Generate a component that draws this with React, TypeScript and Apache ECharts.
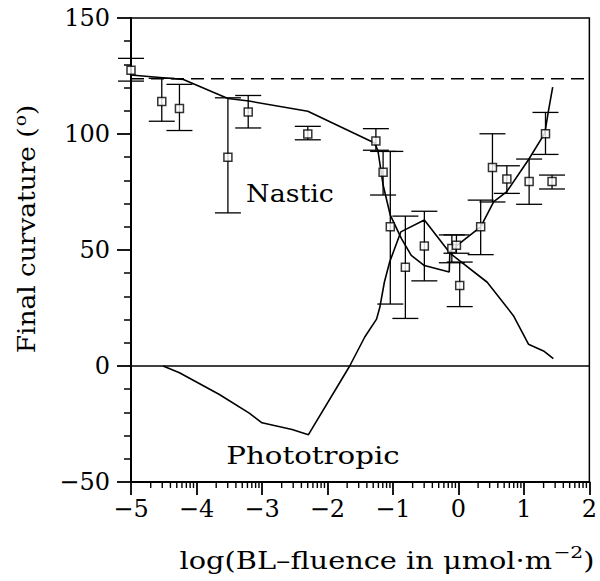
import { useEffect, useRef } from "react";
import * as echarts from "echarts";

// Axis ranges
const X_MIN = -5;
const X_MAX = 2;
const Y_MIN = -50;
const Y_MAX = 150;

// Measured final curvature (mean with error-bar limits) versus log fluence
const fluenceLog = [-5.0, -4.53, -4.26, -3.52, -3.21, -2.3, -1.26, -1.15, -1.04, -0.81, -0.52, -0.1, -0.03, 0.02, 0.34, 0.52, 0.74, 1.08, 1.33, 1.43];
const curvatureMean = [127.5, 114, 111, 90, 109.5, 100, 97, 83.5, 60, 42.6, 51.7, 50.7, 52, 34.7, 60, 85.6, 80.6, 79.5, 100.1, 79.5];
const curvatureLow = [122.8, 105.5, 101.5, 66, 102.6, 97.5, 93, 73.7, 26.7, 20.5, 36.7, 44.5, 48.6, 25.6, 48, 70.7, 74.4, 69.7, 91.2, 76.3];
const curvatureHigh = [132.6, 124, 121.4, 115.6, 116.6, 103.3, 102.3, 92.5, 92.5, 64.6, 66.7, 56.5, 56.5, 44.8, 71.5, 100.1, 86.3, 89.2, 109.3, 82.3];

// Model curve: nastic component
const nasticX = [-5.0, -4.2, -3.52, -3.2, -2.3, -1.28, -1.23, -1.15, -1.04, -0.87, -0.72, -0.52, -0.14, -0.13, 0.14, 0.34, 0.54, 0.74, 1.07, 1.32, 1.37, 1.44];
const nasticY = [125.4, 123.5, 115.3, 114.2, 109.8, 96.1, 93, 78, 65, 54.9, 47.7, 43.3, 40.5, 49.5, 55.5, 60, 70.8, 75.2, 88.9, 100.4, 109.1, 120.2];

// Model curve: phototropic component
const phototropicX = [-4.51, -4.26, -3.65, -3.2, -3.0, -2.54, -2.29, -1.66, -1.43, -1.25, -1.2, -1.13, -1.05, -0.88, -0.52, -0.12, 0.44, 0.84, 1.07, 1.3, 1.45];
const phototropicY = [0, -2.9, -12.3, -20.2, -24.5, -27.4, -29.6, 0, 12.5, 20.2, 25.3, 36.2, 44.8, 57.8, 62.9, 48.4, 36.1, 21.7, 9.4, 6.5, 3.2];

// Saturation level of the nastic response
const saturationLevel = 123.8;

// Decades and in-decade factors for logarithmic minor ticks
const decades = [-5, -4, -3, -2, -1, 0, 1];
const decadeFactors = [2, 3, 4, 5, 6, 7, 8, 9];

const FONT = "'DejaVu Serif', serif";

export default function App() {
  const ref = useRef<HTMLDivElement>(null);

  useEffect(() => {
    if (!ref.current) return;
    const chart = echarts.init(ref.current, null, { renderer: "svg" });

    const minorTicks: number[][] = [];
    decades.forEach((d) => decadeFactors.forEach((f) => minorTicks.push([d + Math.log10(f), Y_MIN])));

    const errorData = fluenceLog.map((x, i) => [x, curvatureLow[i], curvatureHigh[i]]);
    const pointData = fluenceLog.map((x, i) => [x, curvatureMean[i]]);
    const nasticData = nasticX.map((x, i) => [x, nasticY[i]]);
    const phototropicData = phototropicX.map((x, i) => [x, phototropicY[i]]);

    const lineStyle = { color: "#000", width: 1.6 };
    const minus = (v: number) => String(v).replace("-", "\u2212");

    const titleRich = {
      t: { fontFamily: FONT, fontSize: 24, fill: "#000", verticalAlign: "bottom" },
      sup: { fontFamily: FONT, fontSize: 17, fill: "#000", verticalAlign: "bottom", padding: [0, 0, 11, 1] },
    };

    chart.setOption({
      animation: false,
      grid: {
        left: 131,
        right: 8,
        top: 18,
        bottom: 99,
        show: true,
        borderColor: "#000",
        borderWidth: 1.5,
      },
      xAxis: {
        type: "value",
        min: X_MIN,
        max: X_MAX,
        interval: 1,
        axisLine: { onZero: false, lineStyle: { color: "#000", width: 2 } },
        axisTick: { length: 13, lineStyle: { color: "#000", width: 1.8 } },
        axisLabel: { color: "#000", fontFamily: FONT, fontSize: 24, margin: 15, formatter: minus },
        splitLine: { show: false },
      },
      yAxis: {
        type: "value",
        min: Y_MIN,
        max: Y_MAX,
        interval: 50,
        axisLine: { onZero: false, lineStyle: { color: "#000", width: 2 } },
        axisTick: { length: 14, lineStyle: { color: "#000", width: 1.8 } },
        minorTick: { show: true, splitNumber: 5, length: 7, lineStyle: { color: "#000", width: 1.5 } },
        axisLabel: { color: "#000", fontFamily: FONT, fontSize: 24, margin: 21, formatter: minus },
        splitLine: { show: false },
      },
      series: [
        {
          type: "line",
          data: [[X_MIN, 0], [X_MAX, 0]],
          showSymbol: false,
          lineStyle: { color: "#000", width: 1.5 },
          silent: true,
        },
        {
          type: "line",
          data: [[X_MIN, saturationLevel], [X_MAX, saturationLevel]],
          showSymbol: false,
          lineStyle: { color: "#000", width: 1.5, type: [13, 7] },
          silent: true,
        },
        {
          type: "line",
          data: nasticData,
          showSymbol: false,
          lineStyle,
        },
        {
          type: "line",
          data: phototropicData,
          showSymbol: false,
          lineStyle,
        },
        {
          type: "custom",
          data: errorData,
          encode: { x: 0, y: [1, 2] },
          renderItem: (_params: any, api: any) => {
            const x = api.value(0);
            const lo = api.coord([x, api.value(1)]);
            const hi = api.coord([x, api.value(2)]);
            const w = 13;
            const style = { stroke: "#000", lineWidth: 1.3, fill: "none" };
            return {
              type: "group",
              children: [
                { type: "line", shape: { x1: lo[0], y1: lo[1], x2: hi[0], y2: hi[1] }, style },
                { type: "line", shape: { x1: lo[0] - w, y1: lo[1], x2: lo[0] + w, y2: lo[1] }, style },
                { type: "line", shape: { x1: hi[0] - w, y1: hi[1], x2: hi[0] + w, y2: hi[1] }, style },
              ],
            };
          },
          z: 3,
        },
        {
          type: "scatter",
          data: pointData,
          symbol: "rect",
          symbolSize: 8,
          itemStyle: { color: "#fff", borderColor: "#000", borderWidth: 1.5 },
          z: 4,
        },
        {
          type: "custom",
          data: minorTicks,
          clip: false,
          encode: { x: 0, y: 1 },
          renderItem: (_params: any, api: any) => {
            const p = api.coord([api.value(0), api.value(1)]);
            return {
              type: "line",
              shape: { x1: p[0], y1: p[1], x2: p[0], y2: p[1] + 6 },
              style: { stroke: "#000", lineWidth: 1.4 },
            };
          },
          silent: true,
        },
      ],
      graphic: [
        {
          type: "text",
          x: 290,
          y: 194,
          scaleX: 1.12,
          style: { text: "Nastic", font: `24px ${FONT}`, fill: "#000", align: "center", verticalAlign: "middle" },
        },
        {
          type: "text",
          x: 313,
          y: 455,
          scaleX: 1.22,
          style: { text: "Phototropic", font: `24px ${FONT}`, fill: "#000", align: "center", verticalAlign: "middle" },
        },
        {
          type: "text",
          x: 25,
          y: 229,
          rotation: Math.PI / 2,
          scaleX: 1.1,
          style: {
            text: "{t|Final curvature (}{sup|o}{t|)}",
            fill: "#000",
            align: "center",
            verticalAlign: "middle",
            rich: titleRich,
          },
        },
        {
          type: "text",
          x: 387,
          y: 558,
          scaleX: 1.2,
          style: {
            text: "{t|log(BL\u2013fluence in \u03bcmol\u00b7m}{sup|\u22122}{t|)}",
            fill: "#000",
            align: "center",
            verticalAlign: "middle",
            rich: titleRich,
          },
        },
      ],
    });

    return () => chart.dispose();
  }, []);

  return (
    <div
      ref={ref}
      style={{ position: "fixed", left: 0, top: 0, width: 600, height: 581, background: "#fff" }}
    />
  );
}
